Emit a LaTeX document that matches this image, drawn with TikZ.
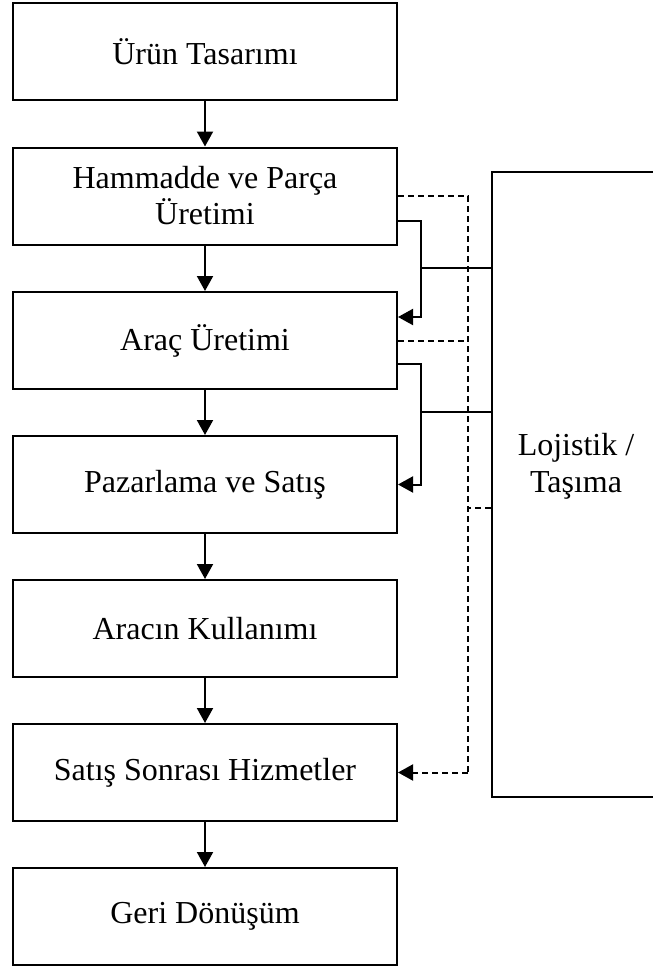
\documentclass[tikz,border=0pt]{standalone}
\usepackage{fontspec}
\setmainfont{Liberation Serif}
\usetikzlibrary{arrows.meta}
\begin{document}
\begin{tikzpicture}[x=1pt,y=-1pt,
  line width=2pt,
  box/.style={draw, rectangle, minimum width=384pt, minimum height=97pt,
    inner sep=0pt, align=center, font=\fontsize{32}{36}\selectfont},
  arr/.style={-{Triangle[length=15pt,width=16pt]}},
  dsh/.style={dash pattern=on 6pt off 4pt}]
\useasboundingbox (0,0) rectangle (653,969);

% main process chain
\node[box] (b1) at (205,51.5)  {Ürün Tasarımı};
\node[box] (b2) at (205,196)   {Hammadde ve Parça\\Üretimi};
\node[box] (b3) at (205,340.5) {Araç Üretimi};
\node[box] (b4) at (205,484.5) {Pazarlama ve Satış};
\node[box] (b5) at (205,628.5) {Aracın Kullanımı};
\node[box] (b6) at (205,772.5) {Satış Sonrası Hizmetler};
\node[box] (b7) at (205,916.5) {Geri Dönüşüm};

% logistics block (open towards the right edge)
\node[draw, rectangle, minimum width=178pt, minimum height=625pt, inner sep=0pt]
  (lg) at (581,484.5) {};
\node[align=center, font=\fontsize{32}{37}\selectfont] (lgt) at (576,466) {Lojistik /\\Taşıma};

\foreach \a/\b in {b1/b2,b2/b3,b3/b4,b4/b5,b5/b6,b6/b7}
  \draw[arr] (\a.south) -- (\b.north);

% solid feeds through logistics
\coordinate (s1) at (421,317);
\coordinate (s2) at (421,484.5);
\draw[arr] ([yshift=-25pt]b2.east) -| (s1) -- ([yshift=23.5pt]b3.east);
\draw ([yshift=216.5pt]lg.west) -- (s1 |- {(0,268)});
\draw[arr] ([yshift=-23.5pt]b3.east) -| (s2) -- (b4.east);
\draw ([yshift=72.5pt]lg.west) -- (s2 |- {(0,412)});

% dashed return path to after-sales services
\coordinate (dbus) at (468,772.5);
\draw[dsh] (b2.east) -| (dbus);
\draw[dsh, arr] (dbus) -- (b6.east);
\draw[dsh] (b3.east) -- (b3.east -| dbus);
\draw[dsh] ([yshift=-23.5pt]lg.west) -- ([yshift=-23.5pt]lg.west -| dbus);
\end{tikzpicture}
\end{document}
